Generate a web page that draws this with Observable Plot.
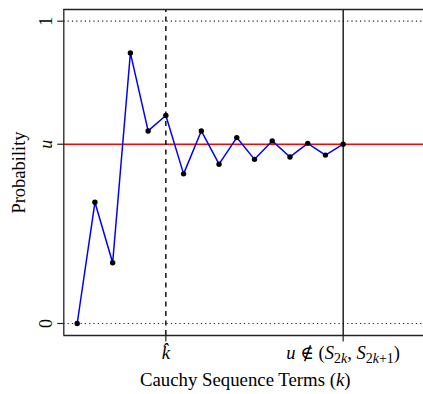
<!DOCTYPE html>
<html>
<head>
<meta charset="utf-8">
<script src="https://cdn.jsdelivr.net/npm/d3@7"></script>
<script src="https://cdn.jsdelivr.net/npm/@observablehq/plot@0.6"></script>
<style>
  html, body { margin: 0; padding: 0; background: #fff; overflow: hidden; }
  svg text { font-family: "Liberation Serif", "DejaVu Serif", serif !important; }
</style>
</head>
<body>
<div id="chart"></div>
<script>
// Sequence index and the probability attached to each term
const terms = [1, 2, 3, 4, 5, 6, 7, 8, 9, 10, 11, 12, 13, 14, 15, 16];
const probs = [0, 0.401, 0.201, 0.895, 0.637, 0.688, 0.495, 0.637, 0.527, 0.615, 0.543, 0.604, 0.551, 0.596, 0.557, 0.593];

// Target level u and the two marked terms
const uLevel = 0.593;
const kHat = 6;
const kStop = 16;

// Tick labels
const yTicks = [0, uLevel, 1];
const yTickLabels = ["0", "u", "1"];
const xTicks = [kHat, kStop];
const xTickLabels = ["k\u0302", "u \u2209 (S2k, S2k+1)"];

const xDomain = [0.245, 20.53];
const yDomain = [-0.0397, 1.0387];

const seq = terms.map((k, i) => ({k, p: probs[i]}));
const serif = "Liberation Serif";

const chart = Plot.plot({
  width: 423,
  height: 394,
  marginLeft: 63.3,
  marginRight: 0,
  marginTop: 9,
  marginBottom: 59,
  style: {background: "#fff", overflow: "visible"},
  x: {domain: xDomain, axis: null},
  y: {domain: yDomain, axis: null},
  marks: [
    // dotted guides at 0 and 1
    Plot.ruleY([0, 1], {x1: xDomain[0], x2: xDomain[1], stroke: "#222", strokeWidth: 1.2, strokeDasharray: "1.2,3.1"}),
    // target level
    Plot.ruleY([uLevel], {x1: xDomain[0], x2: xDomain[1], stroke: "#f00", strokeWidth: 1.3}),
    // k-hat marker
    Plot.ruleX([kHat], {y1: yDomain[0], y2: yDomain[1], stroke: "#000", strokeWidth: 1.4, strokeDasharray: "5,4.5"}),
    // stopping term
    Plot.ruleX([kStop], {y1: yDomain[0], y2: yDomain[1], stroke: "#000", strokeWidth: 1.3}),
    // frame: left, top, bottom
    Plot.ruleX([xDomain[0]], {y1: yDomain[0], y2: yDomain[1], stroke: "#222", strokeWidth: 1.3}),
    Plot.ruleY([yDomain[0], yDomain[1]], {x1: xDomain[0], x2: xDomain[1], stroke: "#222", strokeWidth: 1.3}),
    // tick marks
    Plot.axisY({ticks: yTicks, tickSize: 6, tickFormat: () => "", label: null, stroke: "#222", strokeWidth: 1.2}),
    Plot.axisX({ticks: xTicks, tickSize: 6.5, tickFormat: () => "", label: null, stroke: "#222", strokeWidth: 1.2}),
    // the sequence
    Plot.line(seq, {x: "k", y: "p", stroke: "#0000ff", strokeWidth: 1.5}),
    Plot.dot(seq, {x: "k", y: "p", r: 2.7, fill: "#000", stroke: "none"}),
    // y tick labels (rotated)
    Plot.text(yTicks, {x: xDomain[0], y: d => d, text: (d, i) => yTickLabels[i], rotate: -90, dx: -18, fontSize: 18, fontFamily: serif, fill: "#000"}),
    // x tick labels
    Plot.text(xTicks, {x: d => d, y: yDomain[0], text: (d, i) => xTickLabels[i], dy: 18, fontSize: 18.5, fontFamily: serif, fill: "#000"}),
    // axis titles
    Plot.text(["Probability"], {x: xDomain[0], y: (yDomain[0] + yDomain[1]) / 2, rotate: -90, dx: -45, fontSize: 18.5, fontFamily: serif, fill: "#000"}),
    Plot.text(["Cauchy Sequence Terms (k)"], {x: 10.48, y: yDomain[0], dy: 44, fontSize: 18.8, fontFamily: serif, fill: "#000"})
  ]
});

document.getElementById("chart").appendChild(chart);

// Typeset math pieces: italic variables and subscripts
const svg = d3.select(chart);
svg.selectAll("text").each(function() {
  const el = d3.select(this);
  const t = this.textContent;
  if (t === "u" || t === "k\u0302") {
    el.style("font-style", "italic");
  } else if (t.startsWith("u \u2209")) {
    el.text("");
    const parts = [
      {s: "u", it: true}, {s: " \u2209 ("}, {s: "S", it: true},
      {s: "2", sub: true}, {s: "k", sub: true, it: true}, {s: ", "},
      {s: "S", it: true}, {s: "2", sub: true}, {s: "k", sub: true, it: true}, {s: "+1", sub: true}, {s: ")"}
    ];
    let shifted = false;
    for (const p of parts) {
      const ts = el.append("tspan").text(p.s);
      if (p.it) ts.style("font-style", "italic");
      if (p.sub) {
        ts.attr("font-size", 14);
        if (!shifted) { ts.attr("dy", 4); shifted = true; }
      } else if (shifted) {
        ts.attr("dy", -4); shifted = false;
      }
    }
  } else if (t === "Cauchy Sequence Terms (k)") {
    el.text("");
    el.append("tspan").text("Cauchy Sequence Terms (");
    el.append("tspan").style("font-style", "italic").text("k");
    el.append("tspan").text(")");
  }
});
</script>
</body>
</html>
